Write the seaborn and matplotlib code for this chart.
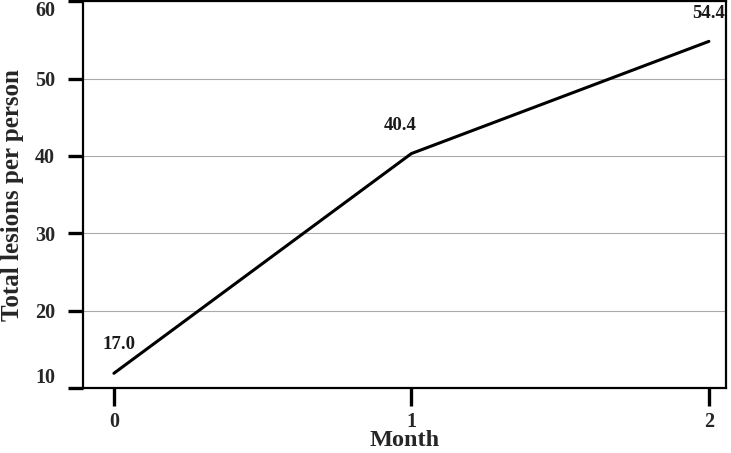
import matplotlib
matplotlib.use("Agg")
import matplotlib.pyplot as plt
import seaborn as sns
import pandas as pd

# data
months = [0, 1, 2]
lesions = [11.9, 40.3, 54.8]
point_labels = ["17.0", "40.4", "54.4"]

df = pd.DataFrame({"Month": months, "Lesions": lesions})

sns.set_theme(style="white")
plt.rcParams['font.family'] = ['Liberation Serif', 'DejaVu Serif']
plt.rcParams['font.weight'] = 'bold'

fig = plt.figure(figsize=(7.31, 4.53), dpi=100)
ax = fig.add_axes([0.1135, 0.1435, 0.8795, 0.854])

sns.lineplot(data=df, x="Month", y="Lesions", color="black", linewidth=2.2, ax=ax)

# label offsets in points (x shift, y shift)
offsets = [(4, 21), (-8, 20), (0, 20)]
for m, v, lab, off in zip(months, lesions, point_labels, offsets):
    ax.annotate(lab, (m, v), xytext=off, textcoords="offset points",
                ha="center", va="center", fontsize=13.5, fontweight="bold", color="#1a1a1a")

ax.set_xlim(-0.104, 2.057)
ax.set_ylim(10, 60)
ax.set_xticks(months)
ax.set_yticks([10, 20, 30, 40, 50, 60])
ax.yaxis.grid(True, color="#aaaaaa", linewidth=0.8)
ax.xaxis.grid(False)

for sp in ax.spines.values():
    sp.set_color("black")
    sp.set_linewidth(1.6)

ax.tick_params(axis="y", direction="out", length=11, width=2.4, color="black",
               labelsize=14.5, pad=9, left=True)
ax.tick_params(axis="x", direction="out", length=13, width=2.4, color="black",
               labelsize=14.5, pad=4, bottom=True)

ylabels = ax.get_yticklabels()
ylabels[0].set_va("bottom")
ylabels[-1].set_va("top")

ax.set_xlabel("Month", fontsize=17.5, fontweight="bold", labelpad=-1)
ax.set_ylabel("Total lesions per person", fontsize=18, fontweight="bold", labelpad=8)

fig.savefig("out.png", dpi=100)
